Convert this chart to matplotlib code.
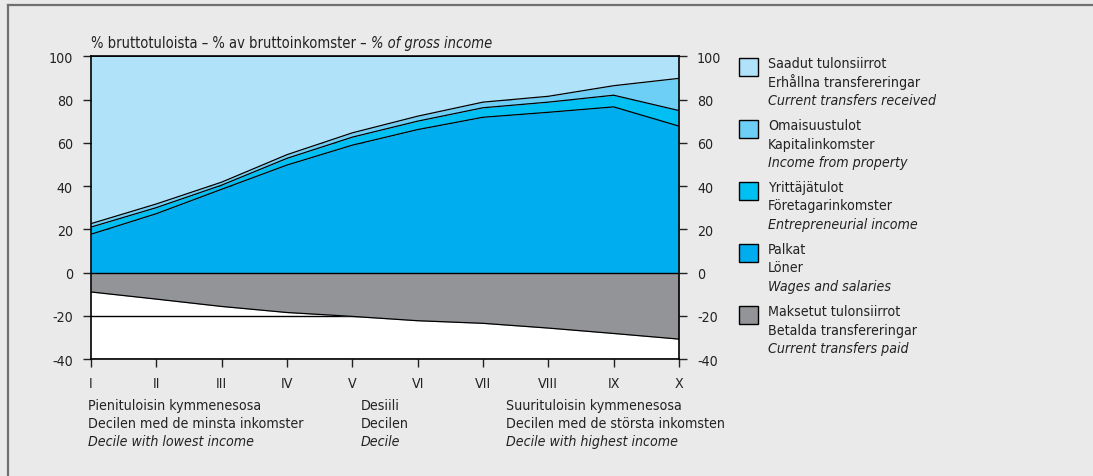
import matplotlib
matplotlib.use("Agg")
import matplotlib.pyplot as plt
from matplotlib.lines import Line2D
from matplotlib.patches import Rectangle
import numpy as np

plt.rcParams['font.family'] = ['DejaVu Sans']
plt.rcParams['font.stretch'] = 'condensed'
FS = 10.2

# deciles I..X
deciles = ['I', 'II', 'III', 'IV', 'V', 'VI', 'VII', 'VIII', 'IX', 'X']
wages = [17.7, 27.2, 38.5, 49.7, 58.9, 66.1, 71.8, 74.1, 76.6, 67.7]
entrepreneurial = [3.3, 2.8, 1.9, 3.1, 3.7, 3.9, 4.4, 4.7, 5.4, 7.2]
prop_income = [1.6, 1.7, 1.4, 1.7, 2.0, 2.3, 2.6, 2.7, 4.4, 14.9]
received = [77.4, 68.3, 58.2, 45.5, 35.4, 27.7, 21.2, 18.5, 13.6, 10.2]
paid = [-9.0, -12.3, -15.7, -18.5, -20.3, -22.3, -23.5, -25.7, -28.2, -30.8]
y_ticks = [-40, -20, 0, 20, 40, 60, 80, 100]

legend_labels = [
    ("Saadut tulonsiirrot", "Erhållna transfereringar", "Current transfers received"),
    ("Omaisuustulot", "Kapitalinkomster", "Income from property"),
    ("Yrittäjätulot", "Företagarinkomster", "Entrepreneurial income"),
    ("Palkat", "Löner", "Wages and salaries"),
    ("Maksetut tulonsiirrot", "Betalda transfereringar", "Current transfers paid"),
]
colors = ['#b0e2fa', '#6dcff6', '#00bff3', '#00aeef', '#929497']

W, H = 1093, 477
fig = plt.figure(figsize=(W / 100, H / 100), dpi=100, facecolor='#eaeaea')
ax = fig.add_axes([91 / W, 1 - 360 / H, 588 / W, (360 - 57.3) / H])
ax.set_facecolor('white')

x = np.arange(len(deciles))
c1 = np.array(wages)
c2 = c1 + np.array(entrepreneurial)
c3 = c2 + np.array(prop_income)
c4 = c3 + np.array(received)

for yv in y_ticks:
    ax.axhline(yv, color='black', lw=1, zorder=0.5)

ax.fill_between(x, 0, c1, color=colors[3], lw=0, zorder=1)
ax.fill_between(x, c1, c2, color=colors[2], lw=0, zorder=1)
ax.fill_between(x, c2, c3, color=colors[1], lw=0, zorder=1)
ax.fill_between(x, c3, c4, color=colors[0], lw=0, zorder=1)
ax.fill_between(x, paid, 0, color=colors[4], lw=0, zorder=1)
for line in (c1, c2, c3, paid):
    ax.plot(x, line, color='black', lw=0.9, zorder=2)
ax.axhline(0, color='black', lw=1, zorder=3)

ax.set_xlim(0, len(deciles) - 1)
ax.set_ylim(-40, 100)
ax.set_yticks(y_ticks)
ax.set_yticklabels([str(v) for v in y_ticks])
ax.set_xticks(x)
ax.set_xticklabels(deciles)
ax.tick_params(axis='y', left=True, right=True, labelleft=True, labelright=True,
               direction='out', length=6, width=1, pad=7, labelsize=FS, colors='#222222')
ax.tick_params(axis='x', direction='out', length=6, width=1, pad=6, labelsize=FS, colors='#222222')
for s in ax.spines.values():
    s.set_linewidth(1.2)
    s.set_zorder(4)

# title in two styles
t1 = ax.annotate('% bruttotuloista – % av bruttoinkomster – ', xy=(0, 1), xycoords='axes fraction',
                 xytext=(0, 7), textcoords='offset points', ha='left', va='baseline',
                 fontsize=10.5, color='#222222')
ax.annotate('% of gross income', xy=(1, 0), xycoords=t1, ha='left', va='bottom',
            fontsize=10.5, style='italic', color='#222222')

# bottom explanations
blocks = [
    (88, ("Pienituloisin kymmenesosa", "Decilen med de minsta inkomster", "Decile with lowest income")),
    (361, ("Desiili", "Decilen", "Decile")),
    (506, ("Suurituloisin kymmenesosa", "Decilen med de största inkomsten", "Decile with highest income")),
]
for bx, lines in blocks:
    for i, txt in enumerate(lines):
        fig.text(bx / W, 1 - (406 + 18 * i) / H, txt, ha='left', va='center',
                 fontsize=FS, color='#222222', style='italic' if i == 2 else 'normal')

# legend
for g, (labels, col) in enumerate(zip(legend_labels, colors)):
    ty = 64 + 62 * g
    fig.add_artist(Rectangle((739 / W, 1 - (ty + 13) / H), 19 / W, 18 / H,
                             transform=fig.transFigure, facecolor=col,
                             edgecolor='black', lw=1))
    for i, txt in enumerate(labels):
        fig.text(768 / W, 1 - (ty + 18.5 * i) / H, txt, ha='left', va='center',
                 fontsize=FS, color='#222222', style='italic' if i == 2 else 'normal')

# outer frame
fig.add_artist(Line2D([8 / W, 1], [1 - 5.5 / H, 1 - 5.5 / H], transform=fig.transFigure,
                      color='#707070', lw=1.6))
fig.add_artist(Line2D([8 / W, 8 / W], [0, 1 - 5.5 / H], transform=fig.transFigure,
                      color='#707070', lw=1.6))

fig.savefig('out.png', dpi=100, facecolor=fig.get_facecolor())
